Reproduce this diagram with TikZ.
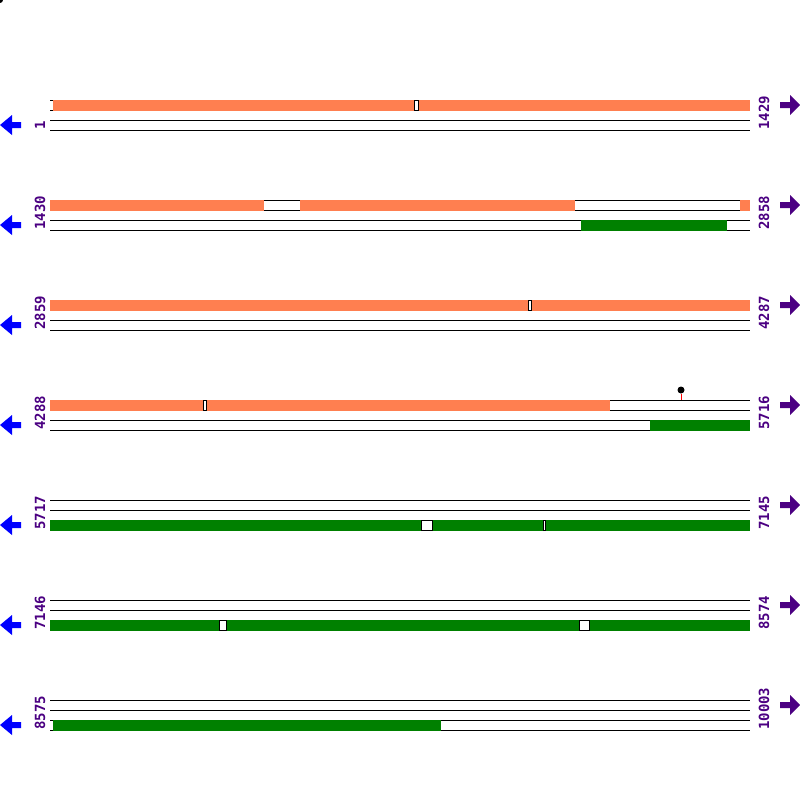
\documentclass[tikz,border=0pt]{standalone}
\usepackage{fontspec}
\setmainfont{DejaVu Sans}
\newfontfamily\labelfont{DejaVu Sans Mono}
\definecolor{orfcol}{RGB}{255,127,80}
\definecolor{revcol}{RGB}{0,128,0}
\definecolor{labpurple}{RGB}{75,0,130}
\begin{document}
\begin{tikzpicture}[x=1pt,y=-1pt,
  trk/.style={line width=1pt, black},
  fwd/.style={fill=orfcol},
  rev/.style={fill=revcol},
  gapbox/.style={fill=white, draw=black, line width=0.7pt},
  lbl/.style={rotate=90, anchor=base west, inner sep=0pt, text=labpurple,
    font=\labelfont\bfseries\fontsize{14}{14}\selectfont},
  larrow/.style={fill=blue},
  rarrow/.style={fill=labpurple}]
\useasboundingbox (0,0) rectangle (800,800);
\fill[white] (0,0) rectangle (800,800);
\fill[black] (0,0) circle (3);
% track lines and arrows
\foreach \i in {0,...,6}{
  \begin{scope}[shift={(0,100*\i)}]
    \foreach \yy in {100,110,120,130}{
      \draw[trk] (50,\yy) -- (750,\yy);
    }
    \fill[larrow] (0,125) -- (12,115) -- (12,122) -- (21,122) -- (21,128) -- (12,128) -- (12,135) -- cycle;
    \fill[rarrow] (800,105) -- (790,95) -- (790,102) -- (780,102) -- (780,108) -- (790,108) -- (790,115) -- cycle;
  \end{scope}
}
% row 1
\fill[fwd] (53,99.5) rectangle (750,110.5);
\draw[gapbox] (414,100) rectangle (418,110);
% row 2
\fill[fwd] (50,199.5) rectangle (264,210.5);
\fill[fwd] (300,199.5) rectangle (575,210.5);
\fill[fwd] (740,199.5) rectangle (750,210.5);
\fill[rev] (581,219.5) rectangle (727,230.5);
% row 3
\fill[fwd] (50,299.5) rectangle (750,310.5);
\draw[gapbox] (528,300) rectangle (531,310);
% row 4
\fill[fwd] (50,399.5) rectangle (610,410.5);
\draw[gapbox] (203.5,400) rectangle (206.5,410);
\fill[rev] (650,419.5) rectangle (750,430.5);
\node[circle, fill=black, inner sep=0pt, minimum size=7pt] (pin) at (681,390) {};
\coordinate (pinbase) at (681,400);
\draw[red, line width=1pt] (pin.south) -- (pinbase);
% row 5
\fill[rev] (50,519.5) rectangle (750,530.5);
\draw[gapbox] (421,520) rectangle (432,530);
\draw[gapbox] (543.5,520) rectangle (545,530);
% row 6
\fill[rev] (50,619.5) rectangle (750,630.5);
\draw[gapbox] (219,620) rectangle (226,630);
\draw[gapbox] (579,620) rectangle (589,630);
% row 7
\fill[rev] (53,719.5) rectangle (441,730.5);
% labels
\node[lbl] (L1) at (45,130) {1};
\node[lbl] (L2) at (45,230) {1430};
\node[lbl] (L3) at (45,330) {2859};
\node[lbl] (L4) at (45,430) {4288};
\node[lbl] (L5) at (45,530) {5717};
\node[lbl] (L6) at (45,630) {7146};
\node[lbl] (L7) at (45,730) {8575};
\node[lbl] (R1) at (769,130) {1429};
\node[lbl] (R2) at (769,230) {2858};
\node[lbl] (R3) at (769,330) {4287};
\node[lbl] (R4) at (769,430) {5716};
\node[lbl] (R5) at (769,530) {7145};
\node[lbl] (R6) at (769,630) {8574};
\node[lbl] (R7) at (769,730) {10003};
\end{tikzpicture}
\end{document}
